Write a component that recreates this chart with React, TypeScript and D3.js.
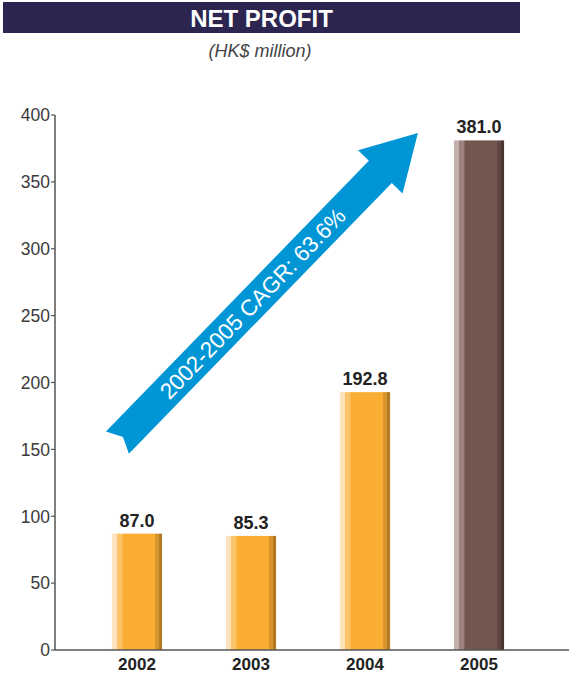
import React from 'react'
import * as d3 from 'd3'

// values
const years = ['2002', '2003', '2004', '2005']
const profits = [87.0, 85.3, 192.8, 381.0]
const yTicks = [0, 50, 100, 150, 200, 250, 300, 350, 400]
const title = 'NET PROFIT'
const unitLabel = '(HK$ million)'
const cagrLabel = '2002-2005 CAGR: 63.6%'
// arrow runs from near the 2002 bar to near the top of the 2005 bar
const arrowFrom = { year: '2002', value: 155 }
const arrowTo = { year: '2005', value: 386.5 }

const WIDTH = 569
const HEIGHT = 677
const FONT = '"Liberation Sans", Arial, Helvetica, sans-serif'

/**
 * Horizontal gradient used to fake the lit cylinder look of the bars
 */
const BarGradient = ({ id, light, lighter, main, dark, darker }) => (
    <linearGradient id={id} x1='0' x2='1' y1='0' y2='0'>
        <stop offset='0' stopColor={lighter} />
        <stop offset='0.09' stopColor={lighter} />
        <stop offset='0.11' stopColor={light} />
        <stop offset='0.2' stopColor={light} />
        <stop offset='0.22' stopColor={main} />
        <stop offset='0.85' stopColor={main} />
        <stop offset='0.87' stopColor={dark} />
        <stop offset='0.93' stopColor={dark} />
        <stop offset='0.95' stopColor={darker} />
        <stop offset='1' stopColor={darker} />
    </linearGradient>
)

/**
 * Big blue arrow with the CAGR text inside
 */
const GrowthArrow = ({ x, y }) => {
    const x0 = x(arrowFrom.year) + 5.5
    const y0 = y(arrowFrom.value)
    const x1 = x(arrowTo.year) - 36
    const y1 = y(arrowTo.value)
    const length = Math.hypot(x1 - x0, y1 - y0)
    const angle = Math.atan2(y1 - y0, x1 - x0) * 180 / Math.PI

    const headLength = 54
    const headHalf = 31
    const shaftHalf = 16
    const notch = 8
    const base = length - headLength
    const points: [number, number][] = [
        [0, -shaftHalf], [base, -shaftHalf], [base, -headHalf], [length, 0],
        [base, headHalf], [base, shaftHalf], [0, shaftHalf], [notch, 0]
    ]
    const path = d3.line()(points) + 'Z'

    return (
        <g transform={`translate(${x0}, ${y0}) rotate(${angle})`}>
            <path d={path} fill='#0096d6' />
            <text
                x={194}
                y={8}
                fill='#ffffff'
                fontFamily={FONT}
                fontSize={22.5}
                textAnchor='middle'
            >
                {cagrLabel}
            </text>
        </g>
    )
}

export default function App () {
    const x = d3.scaleBand().domain(years).range([80, 536]).paddingInner(0.56).paddingOuter(0.28)
    const y = d3.scaleLinear().domain([0, 400]).range([650, 115])
    const bw = x.bandwidth()

    return (
        <svg
            width={WIDTH}
            height={HEIGHT}
            style={{ position: 'absolute', left: 0, top: 0, background: '#ffffff' }}
        >
            <defs>
                <BarGradient id='orangeBar' lighter='#fde3bd' light='#fcc46a' main='#f9ae33' dark='#d8952c' darker='#b07a22' />
                <BarGradient id='brownBar' lighter='#c4b1ad' light='#9c827c' main='#735650' dark='#5f4640' darker='#4a3430' />
            </defs>

            {/* header */}
            <rect x={3} y={2} width={517} height={31} fill='#2b2550' />
            <text
                x={261.5}
                y={27}
                fill='#ffffff'
                fontFamily={FONT}
                fontSize={24}
                fontWeight='bold'
                textAnchor='middle'
            >
                {title}
            </text>
            <text
                x={260}
                y={57}
                fill='#444444'
                fontFamily={FONT}
                fontSize={18}
                fontStyle='italic'
                textAnchor='middle'
            >
                {unitLabel}
            </text>

            {/* bars */}
            {years.map((year, i) => (
                <g key={year}>
                    <rect
                        x={x(year)}
                        y={y(profits[i])}
                        width={bw}
                        height={y(0) - y(profits[i])}
                        fill={i === years.length - 1 ? 'url(#brownBar)' : 'url(#orangeBar)'}
                    />
                    <text
                        x={x(year) + bw / 2}
                        y={y(profits[i]) - 7}
                        fill='#222222'
                        fontFamily={FONT}
                        fontSize={18}
                        fontWeight='bold'
                        textAnchor='middle'
                    >
                        {profits[i].toFixed(1)}
                    </text>
                    <text
                        x={x(year) + bw / 2}
                        y={670}
                        fill='#222222'
                        fontFamily={FONT}
                        fontSize={17}
                        fontWeight='bold'
                        textAnchor='middle'
                    >
                        {year}
                    </text>
                </g>
            ))}

            <GrowthArrow x={x} y={y} />

            {/* y axis */}
            <g className='axis axis-y'>
                <line x1={55} x2={55} y1={y(400)} y2={y(0)} stroke='#555555' strokeWidth={1.5} />
                {yTicks.map((t) => (
                    <g key={t} transform={`translate(0, ${y(t)})`}>
                        <line x1={51} x2={55} stroke='#555555' strokeWidth={1.2} />
                        <text
                            x={50}
                            dy='0.36em'
                            fill='#3a3a3a'
                            fontFamily={FONT}
                            fontSize={17.5}
                            textAnchor='end'
                        >
                            {t}
                        </text>
                    </g>
                ))}
            </g>

            {/* x axis */}
            <line x1={55} x2={WIDTH} y1={y(0)} y2={y(0)} stroke='#555555' strokeWidth={1.5} />
        </svg>
    )
}
